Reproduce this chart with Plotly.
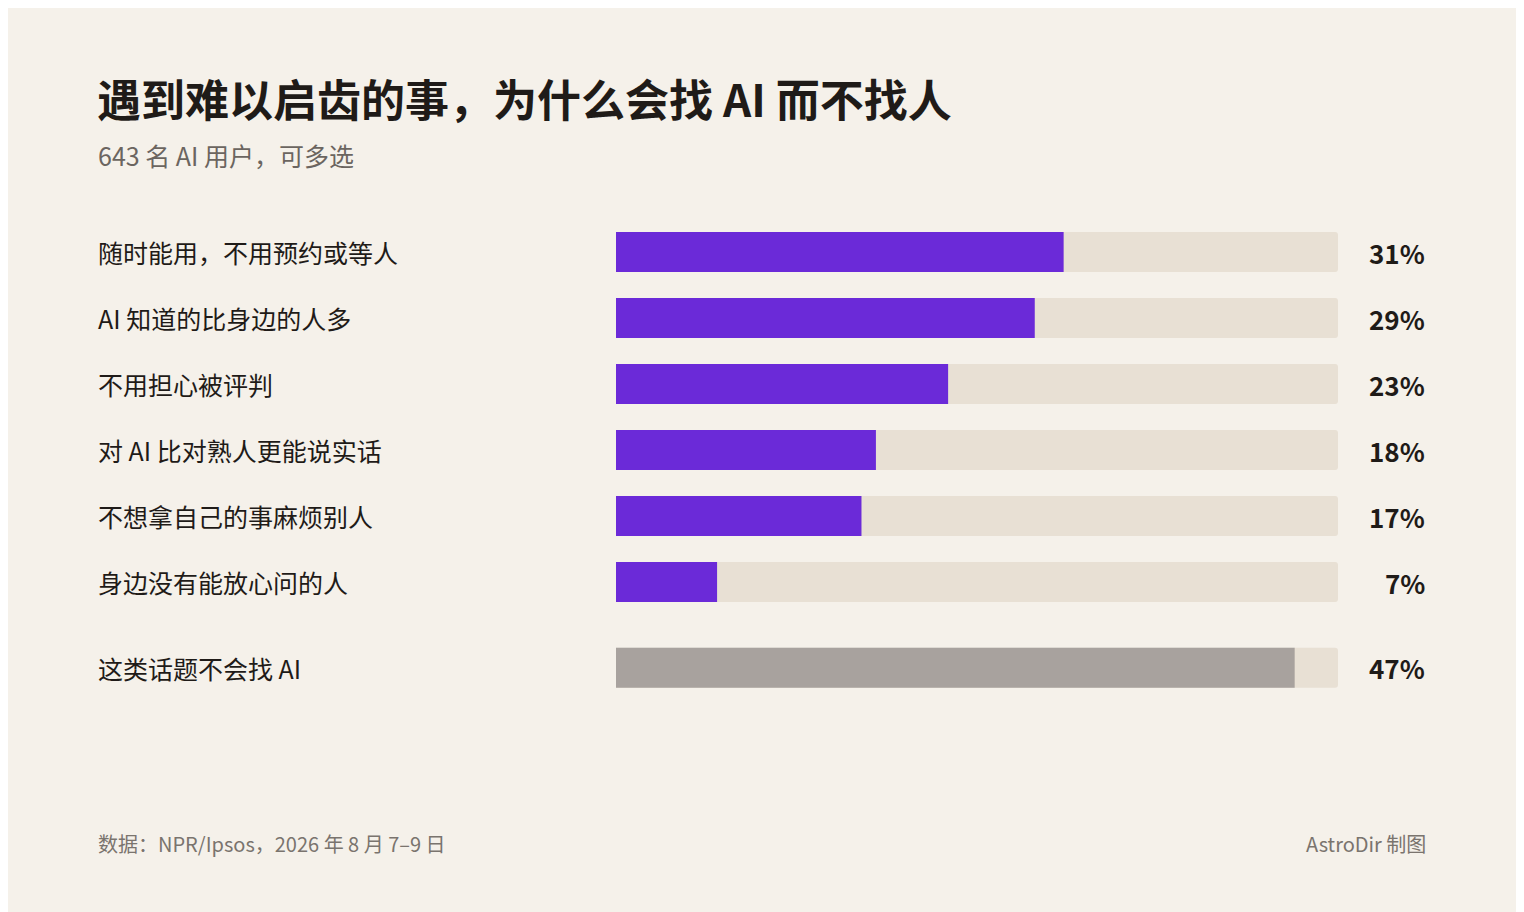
import plotly.graph_objects as go

# data
labels = ["随时能用，不用预约或等人", "AI 知道的比身边的人多", "不用担心被评判",
          "对 AI 比对熟人更能说实话", "不想拿自己的事麻烦别人", "身边没有能放心问的人",
          "这类话题不会找 AI"]
values = [31, 29, 23, 18, 17, 7, 47]
y_pos = [0, 1, 2, 3, 4, 5, 6.3]  # last row set apart
colors = ["#6b2ad8"] * 6 + ["#a8a29e"]
scale_max = 50

FONT = "Noto Sans CJK SC"
BG = "#f5f1ea"

# page offsets the figure by 8px, so work in shifted pixels
OFF = 8
W, H = 1524 - OFF, 912 - OFF
L, R, T, B = 616 - OFF, 1338 - OFF, 200 - OFF, 720 - OFF
def px(x): return (x - OFF - L) / (R - L)
def py(y): return (B - (y - OFF)) / (B - T)

fig = go.Figure()
fig.add_trace(go.Bar(x=[scale_max] * len(values), y=y_pos, orientation="h",
                     marker=dict(color="#e8e0d4", line_width=0, cornerradius=3),
                     width=0.606, hoverinfo="skip"))
fig.add_trace(go.Bar(x=values, y=y_pos, orientation="h",
                     marker=dict(color=colors, line_width=0, cornerradius=3),
                     width=0.606))

ann = []
for lab, v, y in zip(labels, values, y_pos):
    ann.append(dict(x=px(96), xref="paper", y=y, yref="y", text=lab, showarrow=False,
                    xanchor="left", font=dict(size=25, color="#1f1b18", family=FONT)))
    ann.append(dict(x=px(1427), xref="paper", y=y, yref="y", text=f"<b>{v}%</b>",
                    showarrow=False, xanchor="right",
                    font=dict(size=26, color="#1f1b18", family=FONT)))

ann += [
    dict(x=px(95), y=py(98), text="<b>遇到难以启齿的事，为什么会找 AI 而不找人</b>",
         font=dict(size=44, color="#1f1b18", family=FONT)),
    dict(x=px(96), y=py(155), text="643 名 AI 用户，可多选",
         font=dict(size=25, color="#6b6560", family=FONT)),
    dict(x=px(96), y=py(843), text="数据：NPR/Ipsos，2026 年 8 月 7–9 日",
         font=dict(size=20, color="#7a746e", family=FONT)),
    dict(x=px(1428), y=py(843), text="AstroDir 制图", xanchor="right",
         font=dict(size=20, color="#7a746e", family=FONT)),
]
for a in ann[-4:]:
    a.update(xref="paper", yref="paper", showarrow=False, yanchor="middle")
    a.setdefault("xanchor", "left")

fig.update_layout(
    width=W, height=H, paper_bgcolor=BG, plot_bgcolor=BG,
    margin=dict(l=L, r=W - R, t=T, b=H - B),
    barmode="overlay", showlegend=False, annotations=ann,
    xaxis=dict(range=[0, scale_max], visible=False),
    yaxis=dict(range=[7.09, -0.788], visible=False),
)

fig.write_html("out.html")
